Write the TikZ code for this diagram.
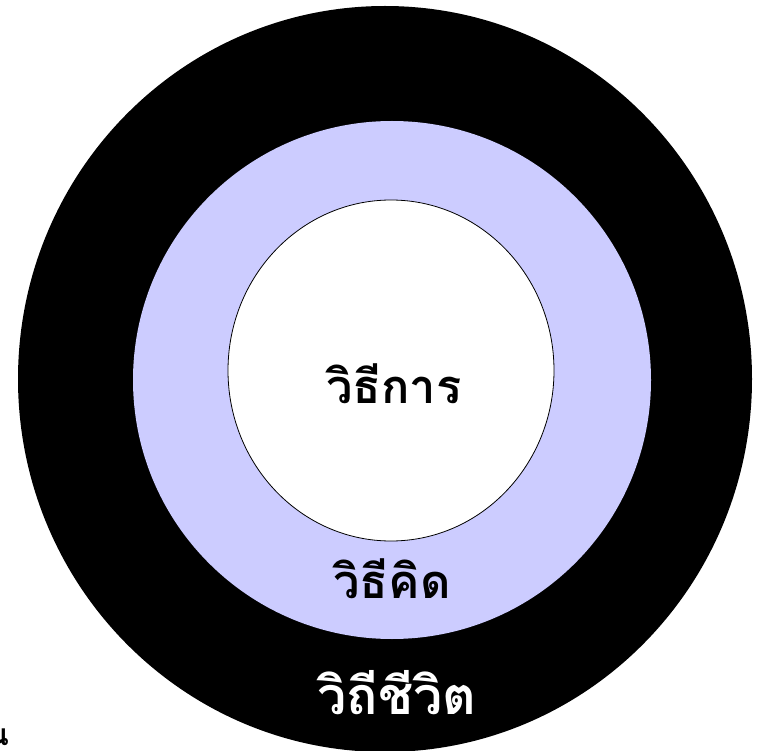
\documentclass[tikz,border=0pt]{standalone}
\usepackage{fontspec}
\newfontfamily\thaifont[Script=Thai]{Loma}
\definecolor{ringblue}{RGB}{204,204,255}

\begin{document}
\begin{tikzpicture}[x=1pt, y=-1pt,
    ringlabel/.style={anchor=base, inner sep=0pt,
      font=\thaifont\bfseries\fontsize{47}{47}\selectfont}]
  % Page
  \useasboundingbox (0,0) rectangle (761,751);
  \fill[white] (0,0) rectangle (761,751);

  % Rings
  \fill[black] (385,379) ellipse [x radius=367, y radius=373];
  \fill[ringblue] (392,380) circle [radius=259];
  \filldraw[fill=white, draw=black, line width=0.8pt]
    (391,370.5) ellipse [x radius=163, y radius=170.5];

  % Labels
  \node[ringlabel] (method) at (394,404) {วิธีการ};
  \node[ringlabel] (thought) at (392,598) {วิธีคิด};
  \node[ringlabel, white, font=\thaifont\bfseries\fontsize{52}{52}\selectfont]
    (life) at (397,714) {วิถีชีวิต};

  % Cut-off caption
  \node[ringlabel, anchor=base east, font=\thaifont\bfseries\fontsize{30}{30}\selectfont]
    (caption) at (9,745) {น};
\end{tikzpicture}
\end{document}
